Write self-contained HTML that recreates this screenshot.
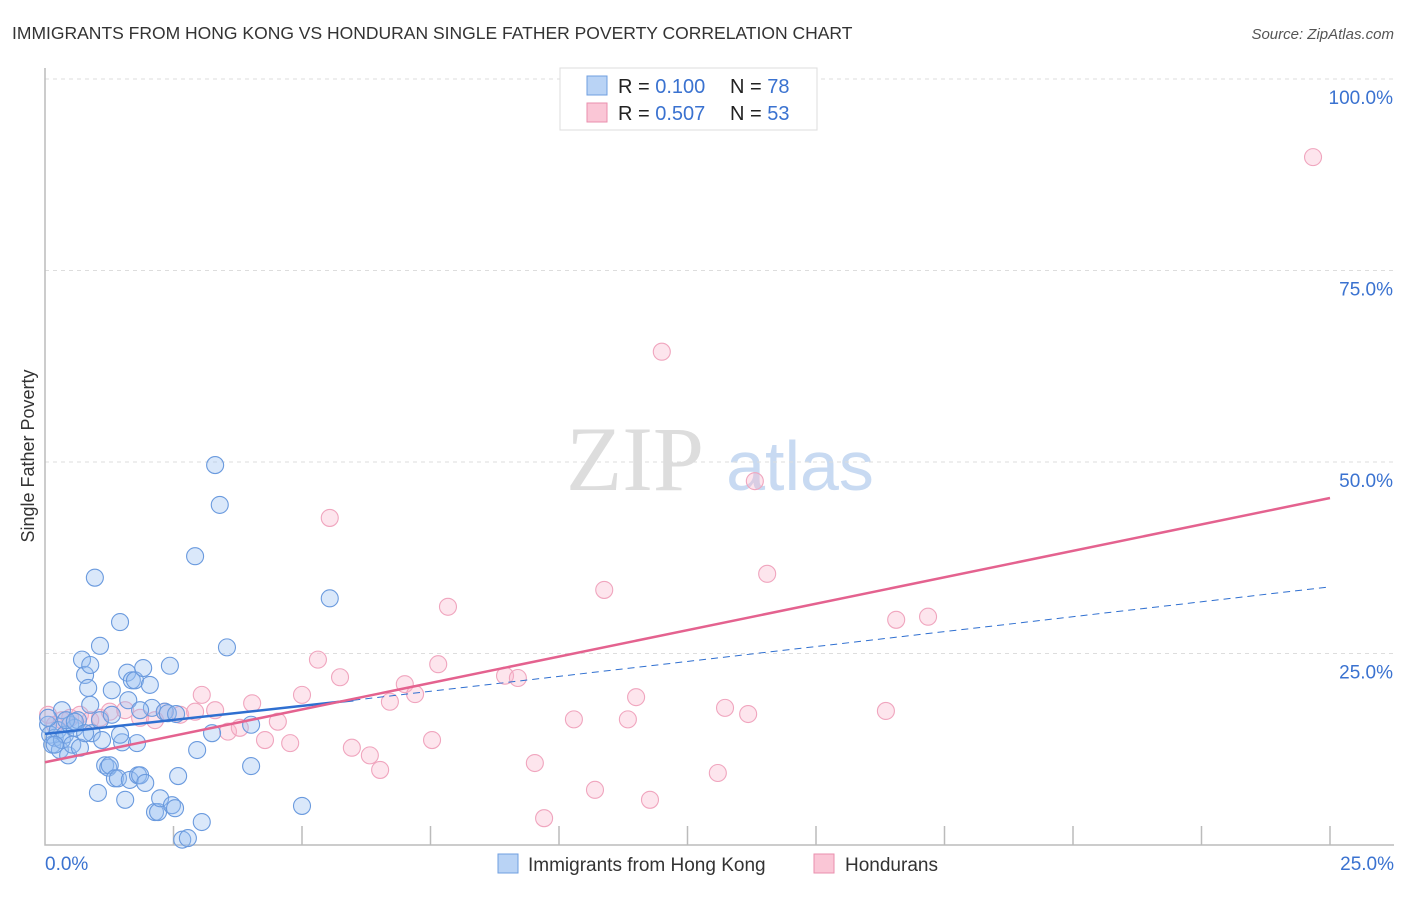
<!DOCTYPE html>
<html><head><meta charset="utf-8"><style>
body{margin:0;background:#fff;font-family:"Liberation Sans",sans-serif}
svg text{font-family:"Liberation Sans",sans-serif}
</style></head><body>
<svg id="c" width="1406" height="892" xmlns="http://www.w3.org/2000/svg">
<text x="12" y="39" font-size="17.5" fill="#333">IMMIGRANTS FROM HONG KONG VS HONDURAN SINGLE FATHER POVERTY CORRELATION CHART</text>
<text x="1394" y="39" font-size="15" fill="#555" font-style="italic" text-anchor="end">Source: ZipAtlas.com</text>
<text x="34" y="456" font-size="18" fill="#333" text-anchor="middle" transform="rotate(-90 34 456)">Single Father Poverty</text>
<g>
<text x="635" y="490" font-size="92" fill="#ddd" font-family="Liberation Serif" text-anchor="middle" style="font-family:'Liberation Serif',serif">ZIP</text>
<text x="800" y="490" font-size="70" fill="#c8daf2" text-anchor="middle">atlas</text>
</g>
<g id="grid"></g><g id="pts"></g><g id="lines"></g>
<g>
<rect x="560" y="68" width="257" height="62" fill="#fff" stroke="#ddd"/>
<rect x="587" y="76" width="20" height="19" fill="#b9d3f5" stroke="#6f9fe0"/>
<rect x="587" y="103" width="20" height="19" fill="#fac6d6" stroke="#ea8fae"/>
<text x="618" y="93" font-size="20" fill="#222">R = <tspan fill="#3a72d0">0.100</tspan></text>
<text x="730" y="93" font-size="20" fill="#222">N = <tspan fill="#3a72d0">78</tspan></text>
<text x="618" y="120" font-size="20" fill="#222">R = <tspan fill="#3a72d0">0.507</tspan></text>
<text x="730" y="120" font-size="20" fill="#222">N = <tspan fill="#3a72d0">53</tspan></text>
</g>
<g>
<rect x="498" y="854" width="20" height="19" fill="#b9d3f5" stroke="#6f9fe0"/>
<text x="528" y="871" font-size="19" fill="#333">Immigrants from Hong Kong</text>
<rect x="814" y="854" width="20" height="19" fill="#fac6d6" stroke="#ea8fae"/>
<text x="845" y="871" font-size="19" fill="#333">Hondurans</text>
</g>
</svg>
<script>
const blueX=[0.06,0.10,0.14,0.19,0.25,0.29,0.33,0.39,0.45,0.49,0.53,0.58,0.64,0.68,0.72,0.78,0.84,0.88,0.91,0.97,1.03,1.07,1.11,1.17,1.23,1.26,1.30,1.36,1.42,1.46,1.50,1.56,1.60,1.65,1.69,1.75,1.79,1.81,1.85,1.91,1.95,2.04,2.08,2.14,2.20,2.24,2.33,2.43,2.47,2.53,2.59,2.67,2.78,2.92,2.96,3.05,3.25,3.31,3.40,3.54,4.01,4.01,5.00,5.54,0.88,1.07,1.30,1.46,1.62,0.33,0.41,0.58,0.19,0.78,1.85,2.39,2.55,0.06];
const blueY=[15.7,14.4,13.1,14.0,15.0,12.4,13.7,14.4,11.7,15.7,13.1,15.3,16.3,12.7,24.2,22.2,20.5,23.5,14.6,34.9,6.8,26.0,13.7,10.4,10.1,10.4,20.2,8.7,8.7,29.1,13.4,5.9,22.5,8.5,21.5,21.5,13.3,9.1,9.1,23.1,8.1,20.9,17.9,4.3,4.3,6.1,17.4,23.4,5.2,4.8,9.0,0.7,0.9,37.7,12.4,3.0,14.6,49.6,44.4,25.8,15.7,10.3,5.1,32.2,18.3,16.3,17.0,14.4,18.9,17.6,16.3,16.1,13.1,14.6,17.6,17.2,17.1,16.6];
const pinkX=[0.06,0.19,0.33,0.49,0.68,0.88,1.07,1.26,1.56,1.85,2.14,2.33,2.63,2.92,3.05,3.31,3.56,3.79,4.03,4.28,4.53,4.77,5.00,5.31,5.54,5.74,5.97,6.32,6.52,6.71,7.00,7.20,7.53,7.65,7.84,8.95,9.20,9.53,9.71,10.29,10.70,10.88,11.34,11.50,11.77,12.00,13.09,13.23,13.68,13.81,14.05,16.36,16.56,17.18,24.67];
const pinkY=[17.0,15.7,16.3,16.6,17.0,16.3,16.6,17.4,17.6,16.6,16.3,17.4,17.0,17.4,19.6,17.6,14.8,15.3,18.5,13.7,16.1,13.3,19.6,24.2,42.7,21.9,12.7,11.7,9.8,18.7,21.0,19.7,13.7,23.6,31.1,22.1,21.8,10.7,3.5,16.4,7.2,33.3,16.4,19.3,5.9,64.4,9.4,17.9,17.1,47.5,35.4,17.5,29.4,29.8,89.8];
const yTicks=[25,50,75,100];
const yTickLabels=["25.0%","50.0%","75.0%","100.0%"];
const xTicks=[0,2.5,5,7.5,10,12.5,15,17.5,20,22.5,25];
const blueLine=[[0,14.5],[6,18.9],[25,33.7]];
const pinkLine=[[0,10.8],[25,45.3]];
const X=v=>45+v*51.4, Y=v=>845-v*7.66;
const NS="http://www.w3.org/2000/svg";
function mk(p,t,a){const e=document.createElementNS(NS,t);for(const k in a)e.setAttribute(k,a[k]);p.appendChild(e);return e;}
const g=document.getElementById('grid');
yTicks.forEach((t,i)=>{
 const l=mk(g,'line',{x1:45,x2:1394,y1:Y(t),y2:Y(t),stroke:'#ddd','stroke-dasharray':'4 4'});
 
 
 const tx=mk(g,'text',{x:1393,y:Y(t)+25,'font-size':19,fill:'#3a72d0','text-anchor':'end'});
 tx.textContent=yTickLabels[i];
 
 
});
const ax=mk(g,'path',{d:`M45 68V845H1394`,fill:'none',stroke:'#bbb','stroke-width':1.5});


xTicks.forEach(t=>{
 if(t===0)return;
 const l=mk(g,'line',{x1:X(t),x2:X(t),y1:826,y2:845,stroke:'#bbb','stroke-width':1.5});
 
 
});
[[0,'0.0%','start',45],[25,'25.0%','end',1394]].forEach(d=>{
 const tx=mk(g,'text',{x:d[3],y:870,'font-size':19,fill:'#3a72d0','text-anchor':d[2]});
 tx.textContent=d[1];
 
 
});
const p=document.getElementById('pts');
pinkX.forEach((v,i)=>{
 const c=mk(p,'circle',{cx:X(v),cy:Y(pinkY[i]),r:8.5,fill:'rgba(248,180,202,0.35)',stroke:'#f0a5be','stroke-width':1.1});
 
 
});
blueX.forEach((v,i)=>{
 const c=mk(p,'circle',{cx:X(v),cy:Y(blueY[i]),r:8.5,fill:'rgba(150,190,240,0.35)',stroke:'#6a9ade','stroke-width':1.1});
 
 
});
const L=document.getElementById('lines');
const b1=mk(L,'line',{x1:X(blueLine[0][0]),y1:Y(blueLine[0][1]),x2:X(blueLine[1][0]),y2:Y(blueLine[1][1]),stroke:'#2f6fd0','stroke-width':2.5});


const b2=mk(L,'line',{x1:X(blueLine[1][0]),y1:Y(blueLine[1][1]),x2:X(blueLine[2][0]),y2:Y(blueLine[2][1]),stroke:'#2f6fd0','stroke-width':1,'stroke-dasharray':'7 5'});


const pl=mk(L,'line',{x1:X(pinkLine[0][0]),y1:Y(pinkLine[0][1]),x2:X(pinkLine[1][0]),y2:Y(pinkLine[1][1]),stroke:'#e4628f','stroke-width':2.5});


</script>
</body></html>
